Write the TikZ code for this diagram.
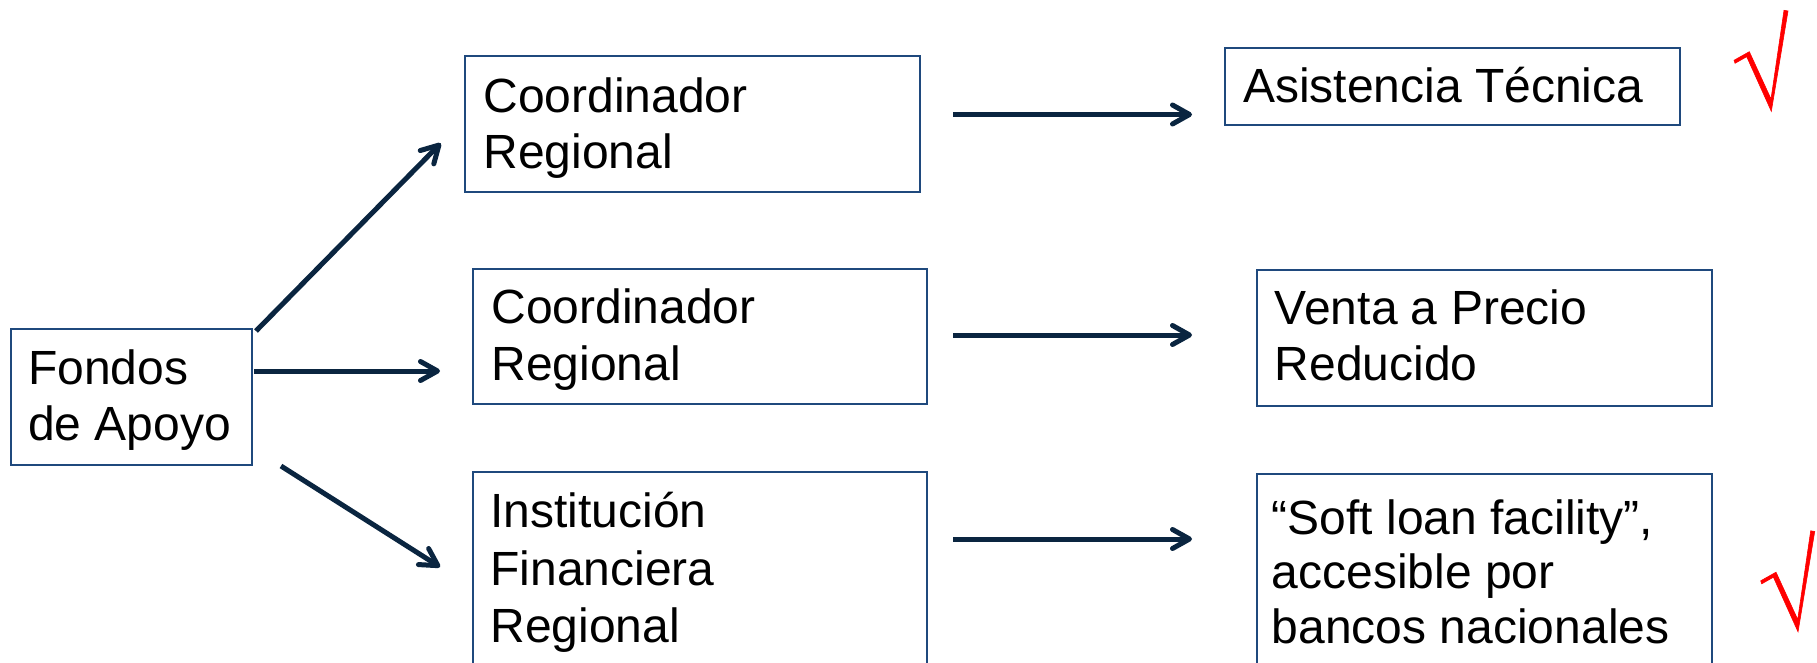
\documentclass[tikz,border=0pt]{standalone}
\usepackage{fontspec}
\setmainfont{Liberation Sans}
\usetikzlibrary{arrows.meta,calc}
\definecolor{boxblue}{RGB}{31,73,125}
\definecolor{arrnavy}{RGB}{10,37,64}
\definecolor{chkred}{RGB}{255,0,0}
\begin{document}
\begin{tikzpicture}[x=1pt,y=-1pt,
  box/.style={draw=boxblue, line width=2pt, rectangle, inner sep=0pt, anchor=north west},
  txt/.style={anchor=north west, inner sep=0pt, align=left, font=\fontsize{48}{56.3}\selectfont},
  txtb/.style={anchor=north west, inner sep=0pt, align=left, font=\fontsize{48}{57.5}\selectfont},
  txtc/.style={anchor=north west, inner sep=0pt, align=left, font=\fontsize{48}{54.3}\selectfont},
  conn/.style={draw=arrnavy, line width=5pt, -{Straight Barb[length=17pt,width=19pt,line cap=round,line join=round]}},
  chk/.style={fill=chkred, draw=chkred, line width=0.6pt, line join=miter}]
\useasboundingbox (0,0) rectangle (1817,663);
\fill[white] (0,0) rectangle (1817,663);

% boxes
\node[box, minimum width=240.7pt, minimum height=136.3pt] (fondos) at (10,327.7) {};
\node[box, minimum width=454.7pt, minimum height=135.7pt] (coordA) at (464.3,55) {};
\node[box, minimum width=455pt, minimum height=77.6pt] (asis) at (1224,46.7) {};
\node[box, minimum width=453.7pt, minimum height=135pt] (coordB) at (472.3,267.7) {};
\node[box, minimum width=455pt, minimum height=136pt] (venta) at (1255.7,269) {};
\node[box, minimum width=453.7pt, minimum height=200pt] (inst) at (472.3,471) {};
\node[box, minimum width=455pt, minimum height=200pt] (soft) at (1255.7,473.3) {};

% texts
\node[txt] (fondosT) at ($(fondos.north west)+(18,16.3)$) {\rule{0pt}{40pt}Fondos\\de Apoyo};
\node[txt] (coordAT) at ($(coordA.north west)+(19,17.3)$) {\rule{0pt}{40pt}Coordinador\\Regional};
\node[txt] (asisT) at ($(asis.north west)+(19,15.8)$) {\rule{0pt}{40pt}Asistencia Técnica};
\node[txt] (coordBT) at ($(coordB.north west)+(19,16)$) {\rule{0pt}{40pt}Coordinador\\Regional};
\node[txt] (ventaT) at ($(venta.north west)+(19,15)$) {\rule{0pt}{40pt}Venta a Precio\\Reducido};
\node[txtb] (instT) at ($(inst.north west)+(18,16.3)$) {\rule{0pt}{40pt}Institución\\Financiera\\Regional};
\node[txtc] (softT) at ($(soft.north west)+(16,21)$) {\rule{0pt}{40pt}“Soft loan facility”,\\accesible por\\bancos nacionales};

% connector ends
\coordinate (a1s) at (256,331);
\coordinate (a1e) at (440.7,143.3);
\coordinate (a2s) at (254,371);
\coordinate (a2e) at (440,371);
\coordinate (a3s) at (281,466);
\coordinate (a3e) at (440,567);
\coordinate (r1s) at (953,114.5);
\coordinate (r1e) at (1192,114.5);
\coordinate (r2s) at (953,335);
\coordinate (r2e) at (1192,335);
\coordinate (r3s) at (953,539);
\coordinate (r3e) at (1192,539);

\draw[conn] (a1s) -- (a1e);
\draw[conn] (a2s) -- (a2e);
\draw[conn] (a3s) -- (a3e);
\draw[conn] (r1s) -- (r1e);
\draw[conn] (r2s) -- (r2e);
\draw[conn] (r3s) -- (r3e);

% check marks
\path[chk] (1734.0,60.3) -- (1749.3,51.7) -- (1771.0,99.0) -- (1784.0,10.3)
  -- (1788.0,11.0) -- (1771.3,111.3) -- (1746.7,56.7) -- (1735.0,63.3) -- cycle;
\begin{scope}[shift={(26.7,520.5)}]
\path[chk] (1734.0,60.3) -- (1749.3,51.7) -- (1771.0,99.0) -- (1784.0,10.3)
  -- (1788.0,11.0) -- (1771.3,111.3) -- (1746.7,56.7) -- (1735.0,63.3) -- cycle;
\end{scope}
\end{tikzpicture}
\end{document}
